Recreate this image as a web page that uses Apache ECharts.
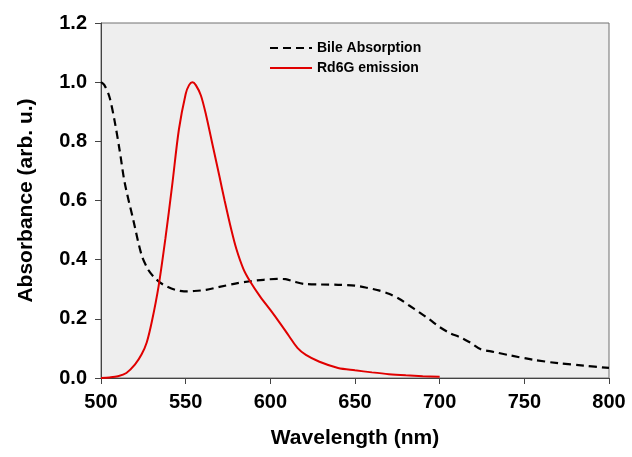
<!DOCTYPE html>
<html>
<head>
<meta charset="utf-8">
<title>Bile absorption vs Rd6G emission</title>
<script src="https://cdn.jsdelivr.net/npm/echarts@6/dist/echarts.min.js"></script>
<style>
  html, body { margin: 0; padding: 0; background: #fff; }
  #chart { width: 632px; height: 457px; }
</style>
</head>
<body>
<div id="chart"></div>
<script>
// wavelength (nm) / value pairs
var bileWl  = [500, 502, 505, 508, 511, 514, 519, 524, 528, 531, 535, 539, 544, 549, 555, 562, 570, 580, 588, 596, 604, 609, 614, 620, 630, 640, 650, 657, 664, 670, 676, 682, 688, 694, 700, 706, 712, 718, 724, 732, 742, 755, 770, 785, 800];
var bileAbs = [1.0, 0.99, 0.95, 0.87, 0.77, 0.66, 0.536, 0.415, 0.365, 0.343, 0.322, 0.309, 0.298, 0.293, 0.294, 0.298, 0.308, 0.320, 0.327, 0.332, 0.335, 0.334, 0.326, 0.318, 0.316, 0.315, 0.312, 0.305, 0.296, 0.285, 0.268, 0.245, 0.222, 0.198, 0.172, 0.152, 0.138, 0.12, 0.098, 0.088, 0.076, 0.062, 0.050, 0.042, 0.034];

var rdWl  = [500, 505, 510, 515, 520, 524, 527, 530, 534, 538, 542, 546, 550, 552, 554, 556, 559, 562, 566, 570, 573, 577, 580, 584, 588, 594, 600, 606, 611, 616, 621, 629, 640, 650, 660, 670, 680, 690, 700];
var rdEm  = [0.0, 0.002, 0.006, 0.017, 0.045, 0.08, 0.12, 0.19, 0.31, 0.47, 0.65, 0.84, 0.96, 0.99, 1.0, 0.99, 0.955, 0.89, 0.785, 0.68, 0.6, 0.5, 0.435, 0.37, 0.327, 0.275, 0.23, 0.183, 0.142, 0.102, 0.078, 0.055, 0.034, 0.026, 0.019, 0.013, 0.009, 0.006, 0.004];

var xTicks = [500, 550, 600, 650, 700, 750, 800];
var yTicks = [0.0, 0.2, 0.4, 0.6, 0.8, 1.0, 1.2];

function pairs(xs, ys) {
  return xs.map(function (x, i) { return [x, ys[i]]; });
}

var font = 'Liberation Sans, Arial, sans-serif';
var chart = echarts.init(document.getElementById('chart'));

chart.setOption({
  animation: false,
  grid: {
    left: 101, right: 23, top: 23, bottom: 79,
    show: true,
    backgroundColor: '#eeeeee',
    borderColor: '#707070',
    borderWidth: 1
  },
  legend: {
    orient: 'vertical',
    left: 264,
    top: 36,
    itemWidth: 42,
    itemHeight: 10,
    itemGap: 6,
    itemStyle: { opacity: 0 },
    textStyle: { fontFamily: font, fontWeight: 'bold', fontSize: 14, color: '#000' },
    data: ['Bile Absorption', 'Rd6G emission']
  },
  xAxis: {
    type: 'value',
    min: xTicks[0],
    max: xTicks[xTicks.length - 1],
    interval: 50,
    name: 'Wavelength (nm)',
    nameLocation: 'middle',
    nameGap: 50,
    nameTextStyle: { fontFamily: font, fontWeight: 'bold', fontSize: 21, color: '#000' },
    axisLine: { lineStyle: { color: '#444', width: 1 } },
    axisTick: { show: true, length: 6, lineStyle: { color: '#444' } },
    axisLabel: { fontFamily: font, fontWeight: 'bold', fontSize: 20, color: '#000', margin: 14 },
    splitLine: { show: false }
  },
  yAxis: {
    type: 'value',
    min: yTicks[0],
    max: yTicks[yTicks.length - 1],
    interval: 0.2,
    name: 'Absorbance (arb. u.)',
    nameLocation: 'middle',
    nameGap: 64,
    nameTextStyle: { fontFamily: font, fontWeight: 'bold', fontSize: 21, color: '#000' },
    axisLine: { show: true, lineStyle: { color: '#444', width: 1 } },
    axisTick: { show: true, length: 6, lineStyle: { color: '#444' } },
    axisLabel: {
      fontFamily: font, fontWeight: 'bold', fontSize: 20, color: '#000', margin: 14,
      formatter: function (v) { return v.toFixed(1); }
    },
    splitLine: { show: false }
  },
  series: [
    {
      name: 'Bile Absorption',
      type: 'line',
      smooth: 0.3,
      symbol: 'none',
      data: pairs(bileWl, bileAbs),
      lineStyle: { color: '#000', width: 2.2, type: [8, 5] },
      itemStyle: { color: '#000' }
    },
    {
      name: 'Rd6G emission',
      type: 'line',
      smooth: 0.3,
      symbol: 'none',
      data: pairs(rdWl, rdEm),
      lineStyle: { color: '#e00000', width: 2 },
      itemStyle: { color: '#e00000' }
    }
  ]
});
</script>
</body>
</html>
